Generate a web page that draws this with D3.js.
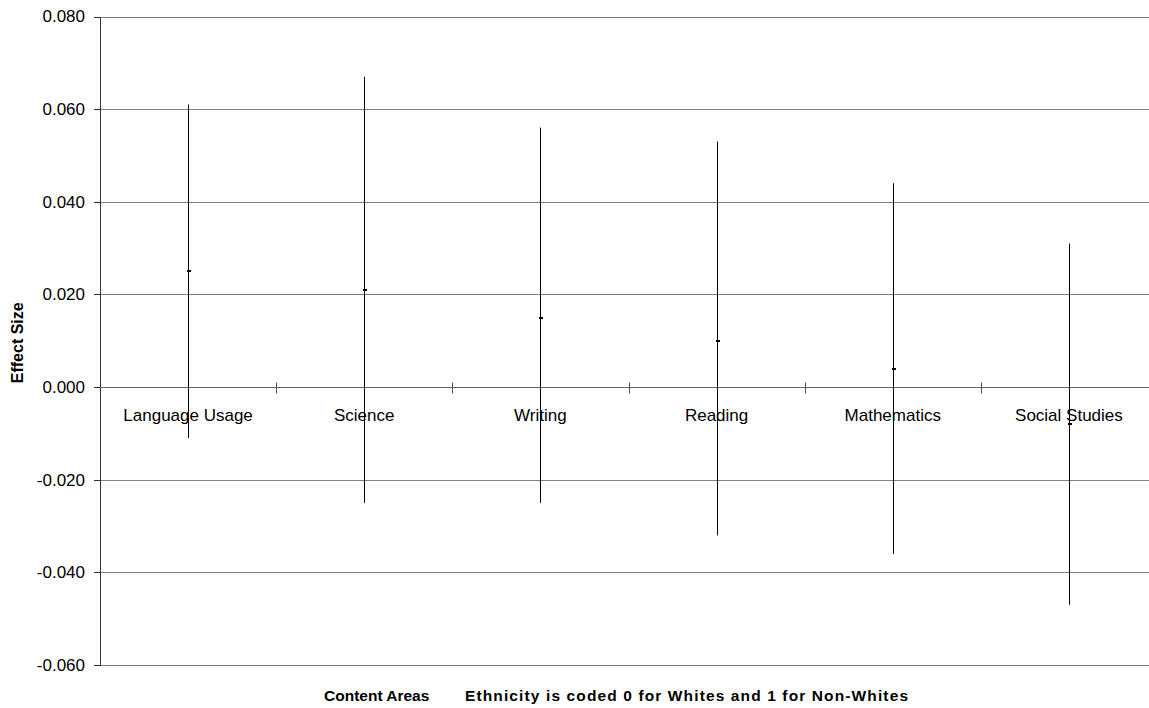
<!DOCTYPE html>
<html>
<head>
    <meta charset="utf-8">
    <style>
        body { margin: 0; background: #fff; }
        svg { display: block; font-family: Arial, 'Liberation Sans', sans-serif; }
        .grid line { stroke: #808080; stroke-width: 1; shape-rendering: crispEdges; }
        .grid path { display: none; }
        .yaxis path, .yaxis line { stroke: #333; shape-rendering: crispEdges; }
        .yaxis text { font-size: 17px; fill: #000; }
    </style>
</head>
<body>
<svg width="1149" height="708"></svg>

<script src="https://d3js.org/d3.v7.min.js"></script>
<script>
    // content areas and effect sizes (mean, upper, lower)
    let areas = ["Language Usage", "Science", "Writing", "Reading", "Mathematics", "Social Studies"]
    let means = [0.025, 0.021, 0.015, 0.010, 0.004, -0.008]
    let upper = [0.061, 0.067, 0.056, 0.053, 0.044, 0.031]
    let lower = [-0.011, -0.025, -0.025, -0.032, -0.036, -0.047]
    let yTicks = [-0.06, -0.04, -0.02, 0, 0.02, 0.04, 0.06, 0.08]

    let svg = d3.select("svg")

    let plotLeft = 100, plotRight = 1157, plotTop = 16.5, plotBottom = 665

    let x = d3.scaleBand()
        .domain(areas)
        .range([plotLeft, plotRight])
        .padding(0)

    let y = d3.scaleLinear()
        .domain([-0.06, 0.08])
        .range([plotBottom, plotTop])

    // gridlines
    svg.append("g")
        .attr("class", "grid")
        .attr("transform", `translate(${plotLeft},0)`)
        .call(d3.axisLeft(y).tickValues(yTicks).tickSize(-(plotRight - plotLeft)).tickFormat(""))

    // y axis
    svg.append("g")
        .attr("class", "yaxis")
        .attr("transform", `translate(${plotLeft},0)`)
        .call(d3.axisLeft(y).tickValues(yTicks).tickSize(6).tickSizeOuter(0).tickPadding(9)
            .tickFormat(d => d3.format(".3f")(d).replace("−", "-")))

    // category axis at zero
    let zero = Math.round(y(0)) + 0.5
    svg.append("line")
        .attr("x1", plotLeft).attr("x2", plotRight)
        .attr("y1", zero).attr("y2", zero)
        .style("stroke", "#666")

    svg.selectAll(".cat-tick")
        .data(areas.slice(1))
        .join("line")
        .attr("x1", d => Math.round(x(d)) + 0.5)
        .attr("x2", d => Math.round(x(d)) + 0.5)
        .attr("y1", zero - 5)
        .attr("y2", zero + 6)
        .style("stroke", "#555")

    // error bars
    let cx = d => Math.round(x(d) + x.bandwidth() / 2) + 0.5

    svg.selectAll(".bar")
        .data(areas)
        .join("line")
        .attr("x1", cx).attr("x2", cx)
        .attr("y1", (d, i) => y(upper[i]))
        .attr("y2", (d, i) => y(lower[i]))
        .style("stroke", "#000")
        .style("stroke-width", 1)

    svg.selectAll(".mean")
        .data(areas)
        .join("rect")
        .attr("x", d => cx(d) - 1.5)
        .attr("y", (d, i) => Math.round(y(means[i])) - 1)
        .attr("width", 4)
        .attr("height", 2)
        .style("fill", "#000")

    // category labels
    svg.selectAll(".cat-label")
        .data(areas)
        .join("text")
        .attr("x", d => x(d) + x.bandwidth() / 2)
        .attr("y", zero + 33)
        .attr("text-anchor", "middle")
        .style("font-size", "17px")
        .text(d => d)

    // axis titles
    svg.append("text")
        .attr("transform", `translate(23,${(plotTop + plotBottom) / 2 + 2}) rotate(-90)`)
        .attr("text-anchor", "middle")
        .style("font-size", "16px")
        .style("font-weight", "bold")
        .text("Effect Size")

    svg.append("text")
        .attr("x", 324)
        .attr("y", 701)
        .style("font-size", "15.5px")
        .style("font-weight", "bold")
        .text("Content Areas")

    svg.append("text")
        .attr("x", 465)
        .attr("y", 701)
        .attr("textLength", 443)
        .attr("lengthAdjust", "spacing")
        .style("font-size", "15.5px")
        .style("font-weight", "bold")
        .text("Ethnicity is coded 0 for Whites and 1 for Non-Whites")
</script>
</body>
</html>
